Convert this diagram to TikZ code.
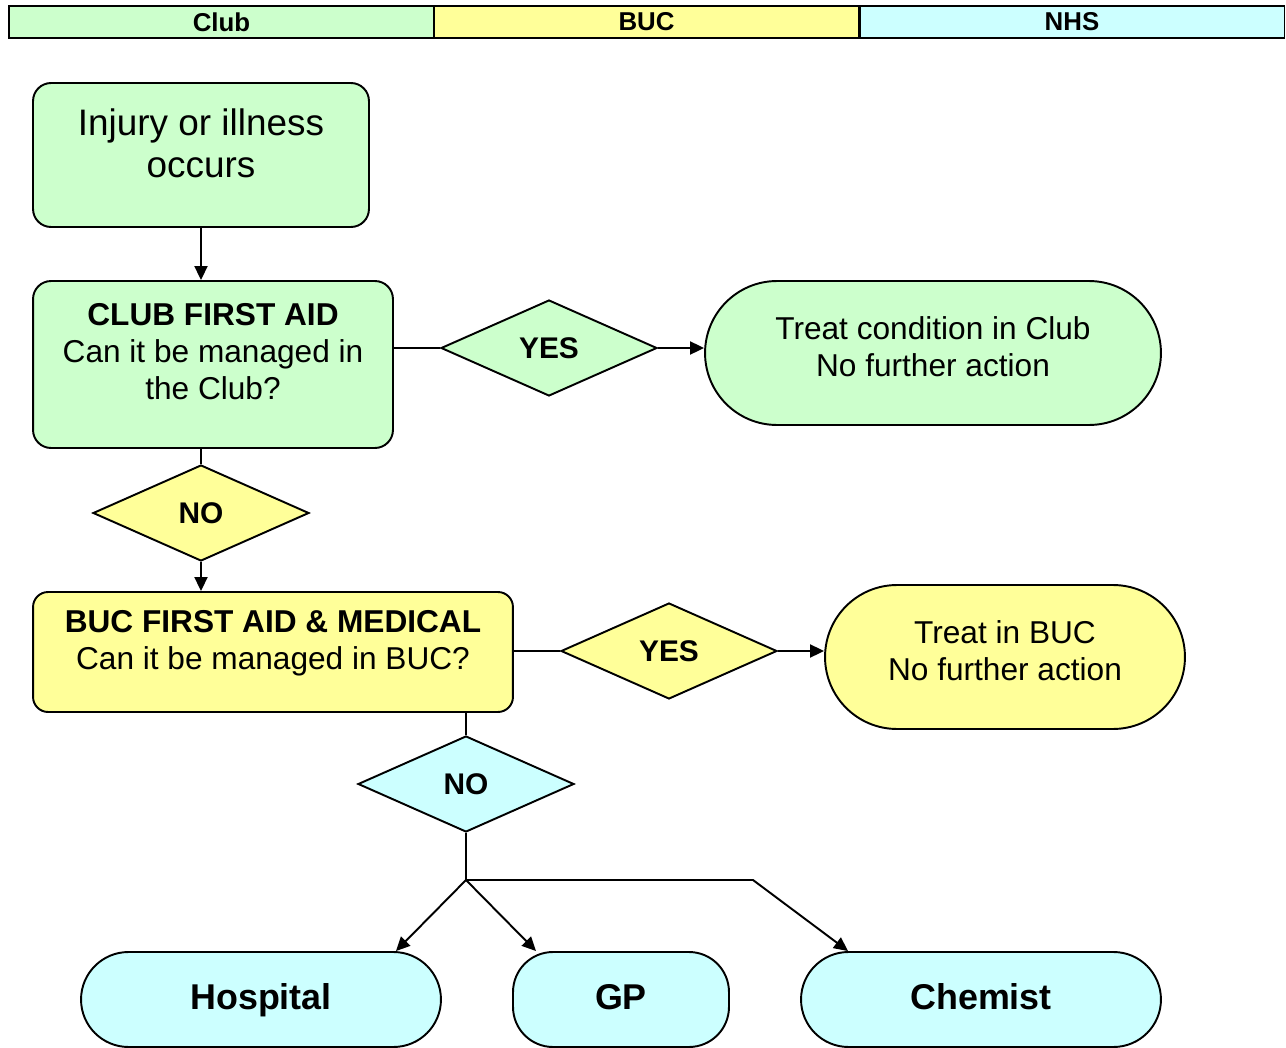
\documentclass[tikz,border=0pt]{standalone}
\usepackage{fontspec}
\setmainfont{Liberation Sans}
\usepackage{xcolor}
\usetikzlibrary{shapes.geometric,arrows.meta}
\definecolor{clubgreen}{HTML}{CCFFCC}
\definecolor{bucyellow}{HTML}{FFFF99}
\definecolor{nhscyan}{HTML}{CCFFFF}

\begin{document}
\begin{tikzpicture}[x=0.02cm, y=-0.02cm, line width=1.1pt,
    arr/.style={-{Triangle[length=0.28cm,width=0.26cm]}},
    box/.style={draw, rounded corners=0.36cm},
    term/.style={draw, rounded corners=1.44cm, minimum height=2.88cm},
    endbox/.style={draw, rounded corners=0.95cm, minimum height=1.9cm, text height=0.56cm, text depth=0.144cm, font=\fontsize{20.4}{24}\selectfont\bfseries},
    choice/.style={draw, diamond, inner sep=1pt, minimum width=4.32cm, minimum height=1.92cm, font=\fontsize{17}{20}\selectfont\bfseries},
    txt/.style={align=center, font=\fontsize{18}{21}\selectfont}]
\useasboundingbox (0,0) rectangle (1286,1048);

% header
\foreach \name/\col/\x/\txt in {hclub/clubgreen/221.5/Club, hbuc/bucyellow/646.5/BUC, hnhs/nhscyan/1072/NHS}
    \node[draw, fill=\col, minimum width=8.5cm, minimum height=0.64cm, inner sep=0pt,
          font=\fontsize{14.7}{16}\selectfont\bfseries] (\name) at (\x,22) {\txt};

% club
\node[box, fill=clubgreen, minimum width=6.72cm, minimum height=2.88cm] (injury) at (201,155) {};
\node[align=center, font=\fontsize{21}{23.8}\selectfont] (injurytxt) at ([yshift=0.24cm]injury.center) {Injury or illness\\occurs};
\node[box, fill=clubgreen, minimum width=7.2cm, minimum height=3.34cm] (club) at (213,364.5) {};
\node[txt] (clubtxt) at ([yshift=0.25cm]club.center) {\textbf{CLUB FIRST AID}\\Can it be managed in\\the Club?};
\node[choice, fill=clubgreen] (yes1) at (549,348) {YES};
\node[term, fill=clubgreen, minimum width=9.12cm] (treatclub) at (933,353) {};
\node[txt] (treatclubtxt) at ([yshift=0.13cm]treatclub.center) {Treat condition in Club\\No further action};

% buc
\node[choice, fill=bucyellow] (no1) at (201,513) {NO};
\node[box, fill=bucyellow, minimum width=9.6cm, minimum height=2.4cm, rounded corners=0.3cm] (buc) at (273,652) {};
\node[txt] (buctxt) at ([yshift=0.18cm]buc.center) {\textbf{BUC FIRST AID \& MEDICAL}\\Can it be managed in BUC?};
\node[choice, fill=bucyellow] (yes2) at (669,651) {YES};
\node[term, fill=bucyellow, minimum width=7.2cm] (treatbuc) at (1005,657) {};
\node[txt] (treatbuctxt) at ([yshift=0.12cm]treatbuc.center) {Treat in BUC\\No further action};

% nhs
\node[choice, fill=nhscyan] (no2) at (466,784) {NO};
\node[endbox, fill=nhscyan, minimum width=7.2cm] (hospital) at (261,999.5) {Hospital};
\node[endbox, fill=nhscyan, minimum width=4.32cm, rounded corners=0.8cm] (gp) at (621,999.5) {GP};
\node[endbox, fill=nhscyan, minimum width=7.2cm] (chemist) at (981,999.5) {Chemist};
\coordinate (split) at (466,880);
\coordinate (bend) at (753,880);

% connectors
\draw[arr] (injury.south) -- (injury.south |- club.north);
\draw (yes1.west -| club.east) -- (yes1.west);
\draw[arr] (yes1.east) -- (yes1.east -| treatclub.west);
\draw (no1.north |- club.south) -- (no1.north);
\draw[arr] (no1.south) -- (no1.south |- buc.north);
\draw (yes2.west -| buc.east) -- (yes2.west);
\draw[arr] (yes2.east) -- (yes2.east -| treatbuc.west);
\draw (no2.north |- buc.south) -- (no2.north);
\draw (no2.south) -- (split);
\draw[arr] (split) -- ([xshift=-0.92cm]hospital.north east);
\draw[arr] (split) -- ([xshift=0.48cm]gp.north west);
\draw[arr] (split) -- (bend) -- ([xshift=0.96cm]chemist.north west);
\end{tikzpicture}
\end{document}
